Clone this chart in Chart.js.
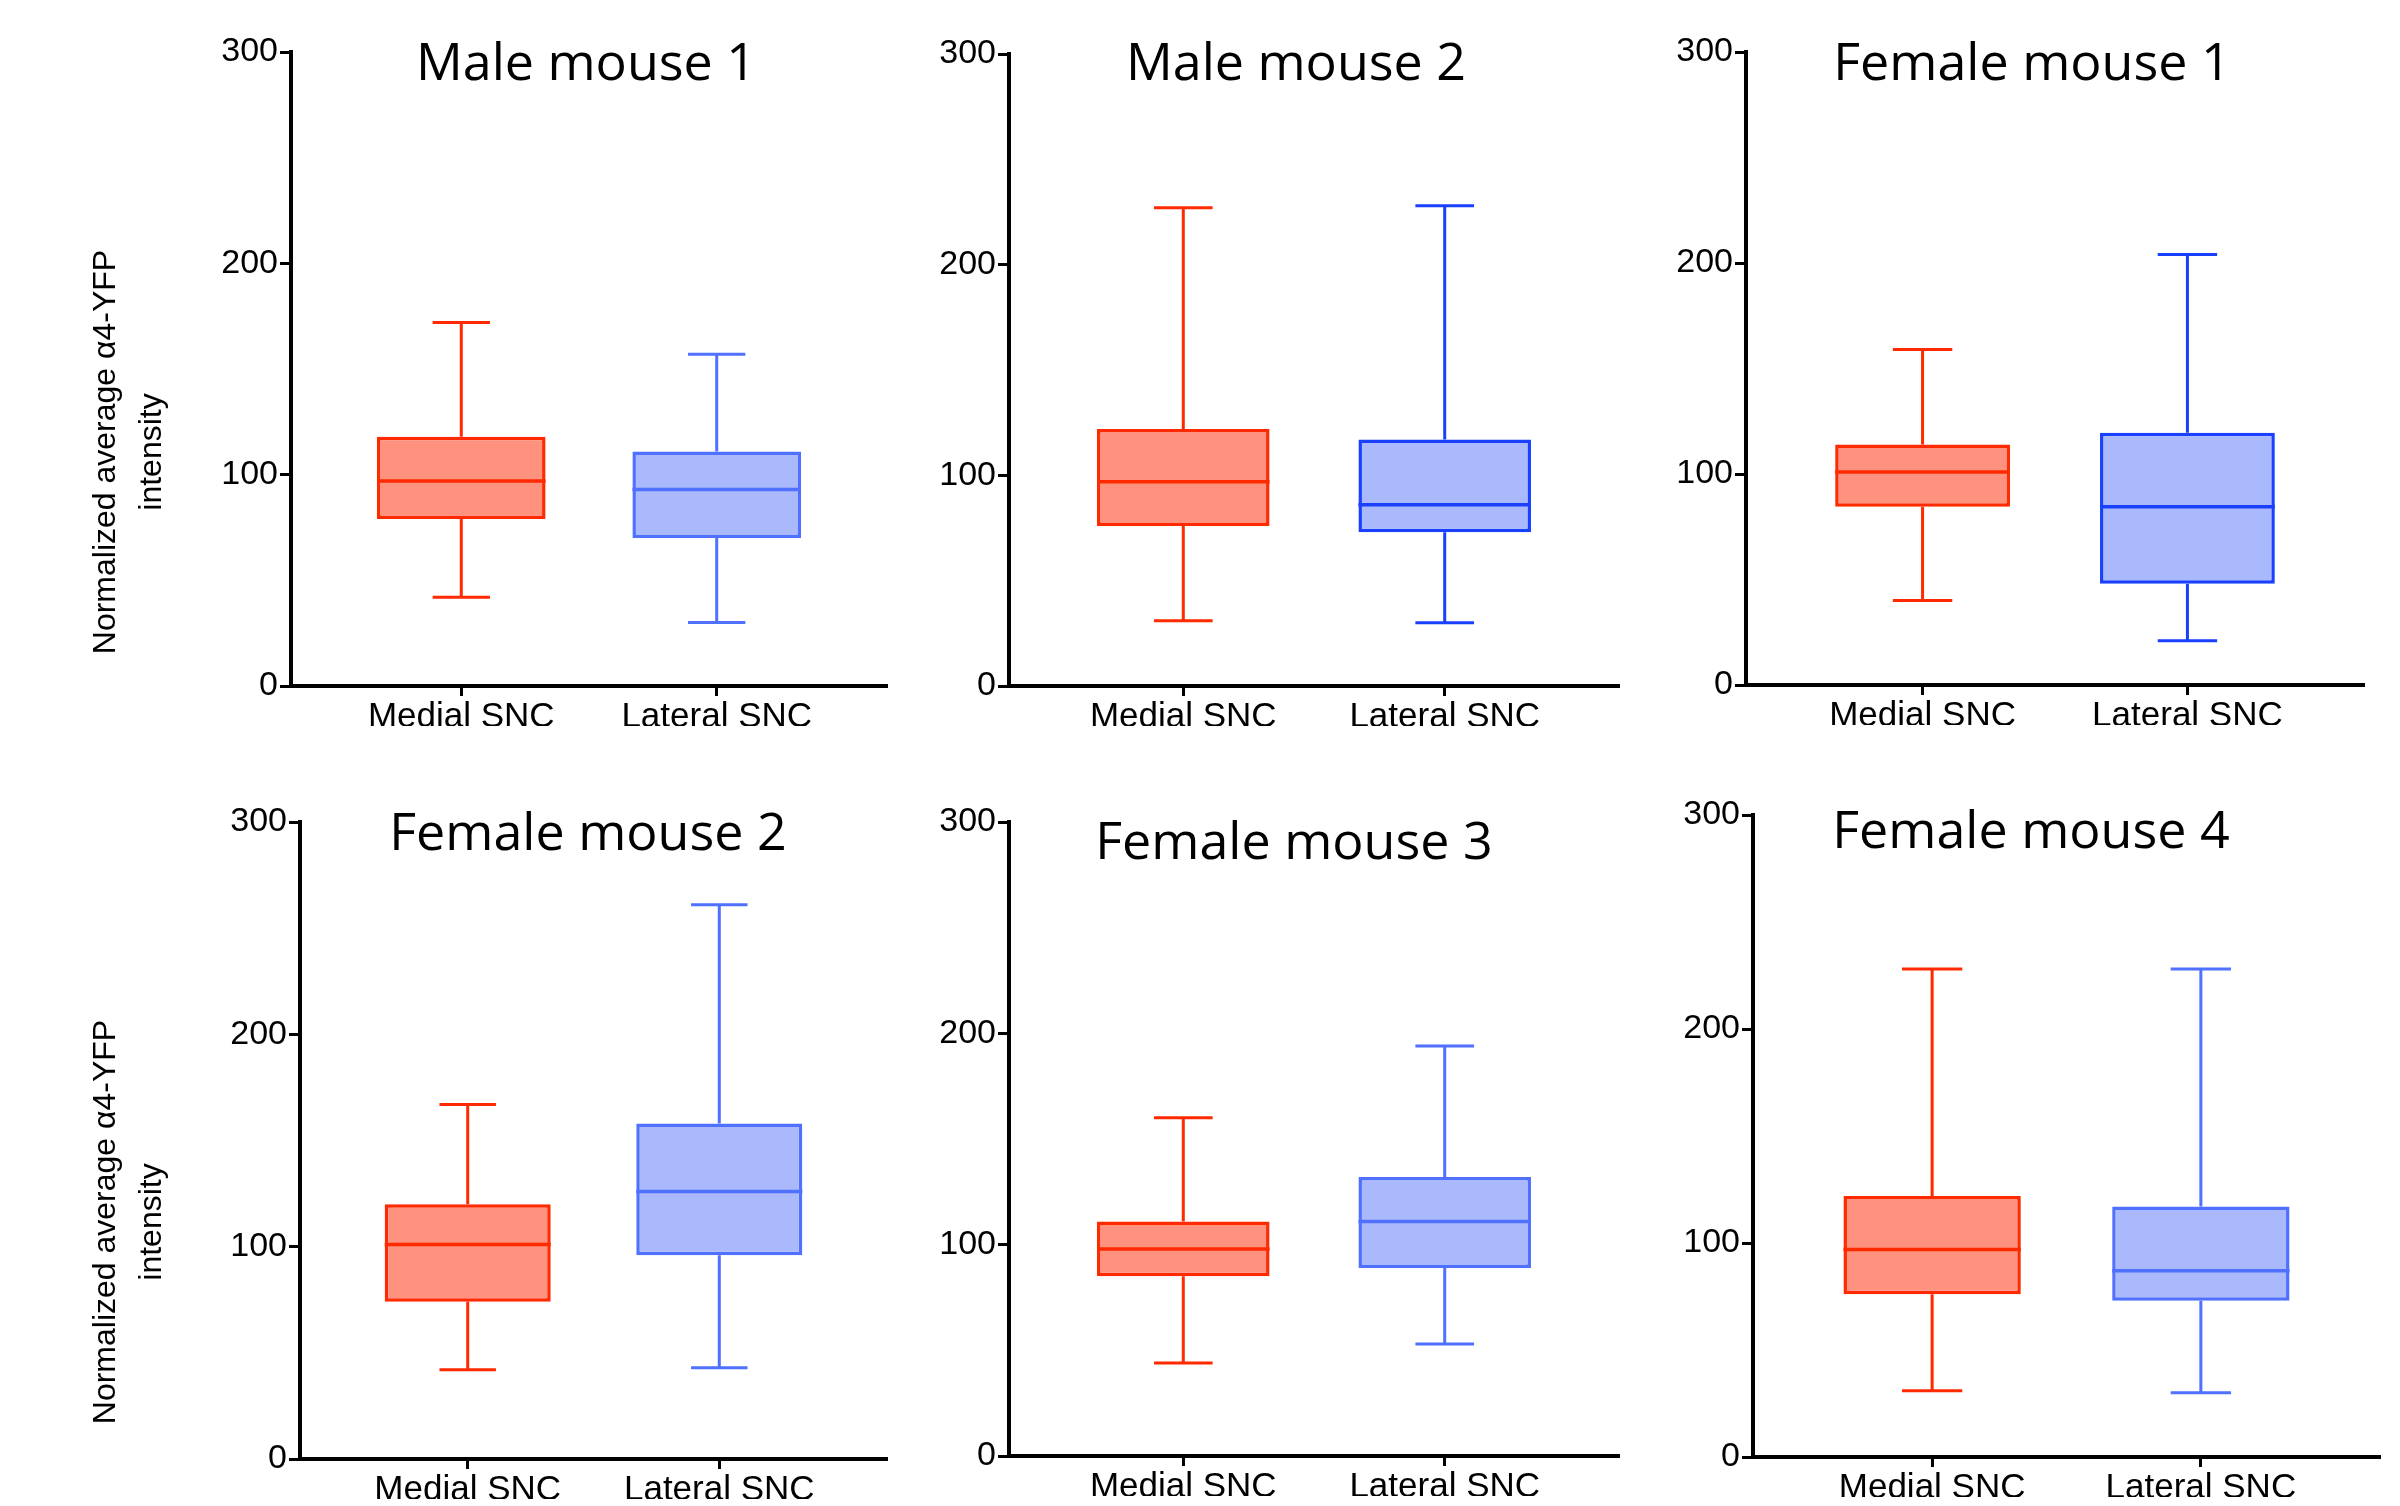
<!DOCTYPE html>
<html>
<head>
<meta charset="utf-8">
<script src="https://cdn.jsdelivr.net/npm/chart.js@4.4.1/dist/chart.umd.min.js"></script>
<style>
  html, body { margin: 0; padding: 0; background: #fff; }
  body { width: 2400px; height: 1506px; position: relative; overflow: hidden; }
  canvas { position: absolute; }
</style>
</head>
<body>
<canvas id="p0"></canvas>
<canvas id="p1"></canvas>
<canvas id="p2"></canvas>
<canvas id="p3"></canvas>
<canvas id="p4"></canvas>
<canvas id="p5"></canvas>
<script>
  // categories and panel names
  const groups = ['Medial SNC', 'Lateral SNC'];
  const mice = ['Male mouse 1', 'Male mouse 2', 'Female mouse 1', 'Female mouse 2', 'Female mouse 3', 'Female mouse 4'];
  const yTicks = [0, 100, 200, 300];
  const yTitleLines = ['Normalized average \u03B14-YFP', 'intensity'];

  // [min, Q1, median, Q3, max] for each mouse
  const medialStats = [
    [42, 79, 97, 118, 172],
    [31, 76, 97, 122, 227],
    [40, 84.5, 101, 114, 159],
    [42, 74, 101, 120, 167],
    [44, 85, 98, 111, 160],
    [31, 76, 97, 122, 228]
  ];
  const lateralStats = [
    [30, 70, 93, 111, 157],
    [30, 73, 86, 117, 228],
    [21, 48, 84.5, 119.5, 204],
    [43, 96, 126, 158, 261],
    [53, 89, 111, 132, 194],
    [30, 73, 87, 117, 228]
  ];

  const RED = '#ff2a00', RED_FILL = '#ff917f';
  const BLUE = '#5070ff', BLUE_DARK = '#1a40ff', BLUE_FILL = '#a9b9fb';

  const Y_W = 70, X_H = 40;

  // page layout: canvas rect, plot box [left, top, right, bottom], title anchor
  const panels = [
    { cx: 0,    cy: 0,   cw: 900, ch: 753, box: [291, 52, 887, 686],    title: [586, 80],   yTitle: [106, 452],  blue: BLUE },
    { cx: 900,  cy: 0,   cw: 740, ch: 753, box: [1009, 54, 1619, 686],  title: [1296, 80],  yTitle: null,        blue: BLUE_DARK },
    { cx: 1640, cy: 0,   cw: 760, ch: 753, box: [1746, 52, 2364, 685],  title: [2032, 80],  yTitle: null,        blue: BLUE_DARK },
    { cx: 0,    cy: 753, cw: 900, ch: 753, box: [300, 822, 887, 1459],  title: [588, 850],  yTitle: [106, 1222], blue: BLUE },
    { cx: 900,  cy: 753, cw: 740, ch: 753, box: [1009, 822, 1619, 1456], title: [1294, 859], yTitle: null,      blue: BLUE },
    { cx: 1640, cy: 753, cw: 760, ch: 753, box: [1753, 815, 2380, 1457], title: [2031, 848], yTitle: null,      blue: BLUE }
  ];

  // whiskers under the boxes, medians on top
  const boxWhiskers = {
    id: 'boxWhiskers',
    beforeDatasetsDraw(chart) {
      const ctx = chart.ctx, y = chart.scales.y;
      const ds = chart.data.datasets[0];
      chart.getDatasetMeta(0).data.forEach((bar, j) => {
        const [mn, q1, , q3, mx] = ds.stats[j];
        const x = bar.x, cap = bar.width * 0.34;
        ctx.save();
        ctx.strokeStyle = ds.borderColor[j];
        ctx.lineWidth = 3;
        ctx.beginPath();
        ctx.moveTo(x, y.getPixelForValue(mx)); ctx.lineTo(x, y.getPixelForValue(q3));
        ctx.moveTo(x, y.getPixelForValue(q1)); ctx.lineTo(x, y.getPixelForValue(mn));
        ctx.moveTo(x - cap / 2, y.getPixelForValue(mx)); ctx.lineTo(x + cap / 2, y.getPixelForValue(mx));
        ctx.moveTo(x - cap / 2, y.getPixelForValue(mn)); ctx.lineTo(x + cap / 2, y.getPixelForValue(mn));
        ctx.stroke();
        ctx.restore();
      });
    },
    afterDatasetsDraw(chart) {
      const ctx = chart.ctx, y = chart.scales.y;
      const ds = chart.data.datasets[0];
      chart.getDatasetMeta(0).data.forEach((bar, j) => {
        const py = y.getPixelForValue(ds.stats[j][2]);
        ctx.save();
        ctx.strokeStyle = ds.borderColor[j];
        ctx.lineWidth = 3.5;
        ctx.beginPath();
        ctx.moveTo(bar.x - bar.width / 2, py);
        ctx.lineTo(bar.x + bar.width / 2, py);
        ctx.stroke();
        ctx.restore();
      });
    }
  };

  function panelText(p, i) {
    return {
      id: 'panelText',
      afterDraw(chart) {
        const ctx = chart.ctx;
        ctx.save();
        ctx.fillStyle = '#000';
        ctx.font = '52px "Open Sans"';
        ctx.textAlign = 'center';
        ctx.textBaseline = 'alphabetic';
        ctx.fillText(mice[i], p.title[0] - p.cx, p.title[1] - p.cy);
        if (p.yTitle) {
          ctx.translate(p.yTitle[0] - p.cx, p.yTitle[1] - p.cy);
          ctx.rotate(-Math.PI / 2);
          ctx.font = '32px "Liberation Sans"';
          ctx.textBaseline = 'middle';
          ctx.fillText(yTitleLines[0], 0, 0);
          ctx.fillText(yTitleLines[1], 0, 46);
        }
        ctx.restore();
      }
    };
  }

  function build() {
    panels.forEach((p, i) => {
      const cv = document.getElementById('p' + i);
      cv.width = p.cw; cv.height = p.ch;
      cv.style.left = p.cx + 'px'; cv.style.top = p.cy + 'px';
      const [L, T, R, B] = p.box;
      const stats = [medialStats[i], lateralStats[i]];

      new Chart(cv.getContext('2d'), {
        type: 'bar',
        data: {
          datasets: [{
            data: stats.map((s, k) => ({ x: k + 1, y: [s[1], s[3]] })),
            stats: stats,
            backgroundColor: [RED_FILL, BLUE_FILL],
            borderColor: [RED, p.blue],
            borderWidth: 3.5,
            borderSkipped: false,
            barPercentage: 0.66,
            categoryPercentage: 1
          }]
        },
        options: {
          responsive: false,
          devicePixelRatio: 1,
          animation: false,
          layout: {
            padding: {
              left: L - p.cx - Y_W,
              top: T - p.cy,
              right: p.cx + p.cw - R,
              bottom: p.cy + p.ch - B - X_H
            }
          },
          plugins: { legend: { display: false }, tooltip: { enabled: false } },
          scales: {
            x: {
              type: 'linear', min: 1 / 3, max: 8 / 3, bounds: 'data', offset: false,
              afterBuildTicks: s => { s.ticks = groups.map((g, k) => ({ value: k + 1 })); },
              afterFit: s => { s.height = X_H; },
              ticks: {
                color: '#000', padding: 0, autoSkip: false, maxRotation: 0,
                font: { family: 'Liberation Sans', size: 35, lineHeight: 1.2 },
                callback: (v, k) => groups[k]
              },
              grid: { offset: false, drawOnChartArea: false, drawTicks: true, tickLength: 10, tickWidth: 3, tickColor: '#000' },
              border: { display: true, color: '#000', width: 4 }
            },
            y: {
              type: 'linear', min: 0, max: 300, bounds: 'data',
              afterBuildTicks: s => { s.ticks = yTicks.map(v => ({ value: v })); },
              afterFit: s => { s.width = Y_W; },
              ticks: {
                color: '#000', padding: 2,
                font: { family: 'Liberation Sans', size: 34, lineHeight: 1.2 }
              },
              grid: { drawOnChartArea: false, drawTicks: true, tickLength: 11, tickWidth: 3, tickColor: '#000' },
              border: { display: true, color: '#000', width: 4 }
            }
          }
        },
        plugins: [boxWhiskers, panelText(p, i)]
      });
    });
  }

  Promise.all([
    document.fonts.load('52px "Open Sans"'),
    document.fonts.load('34px "Liberation Sans"')
  ]).then(build, build);
</script>
</body>
</html>
